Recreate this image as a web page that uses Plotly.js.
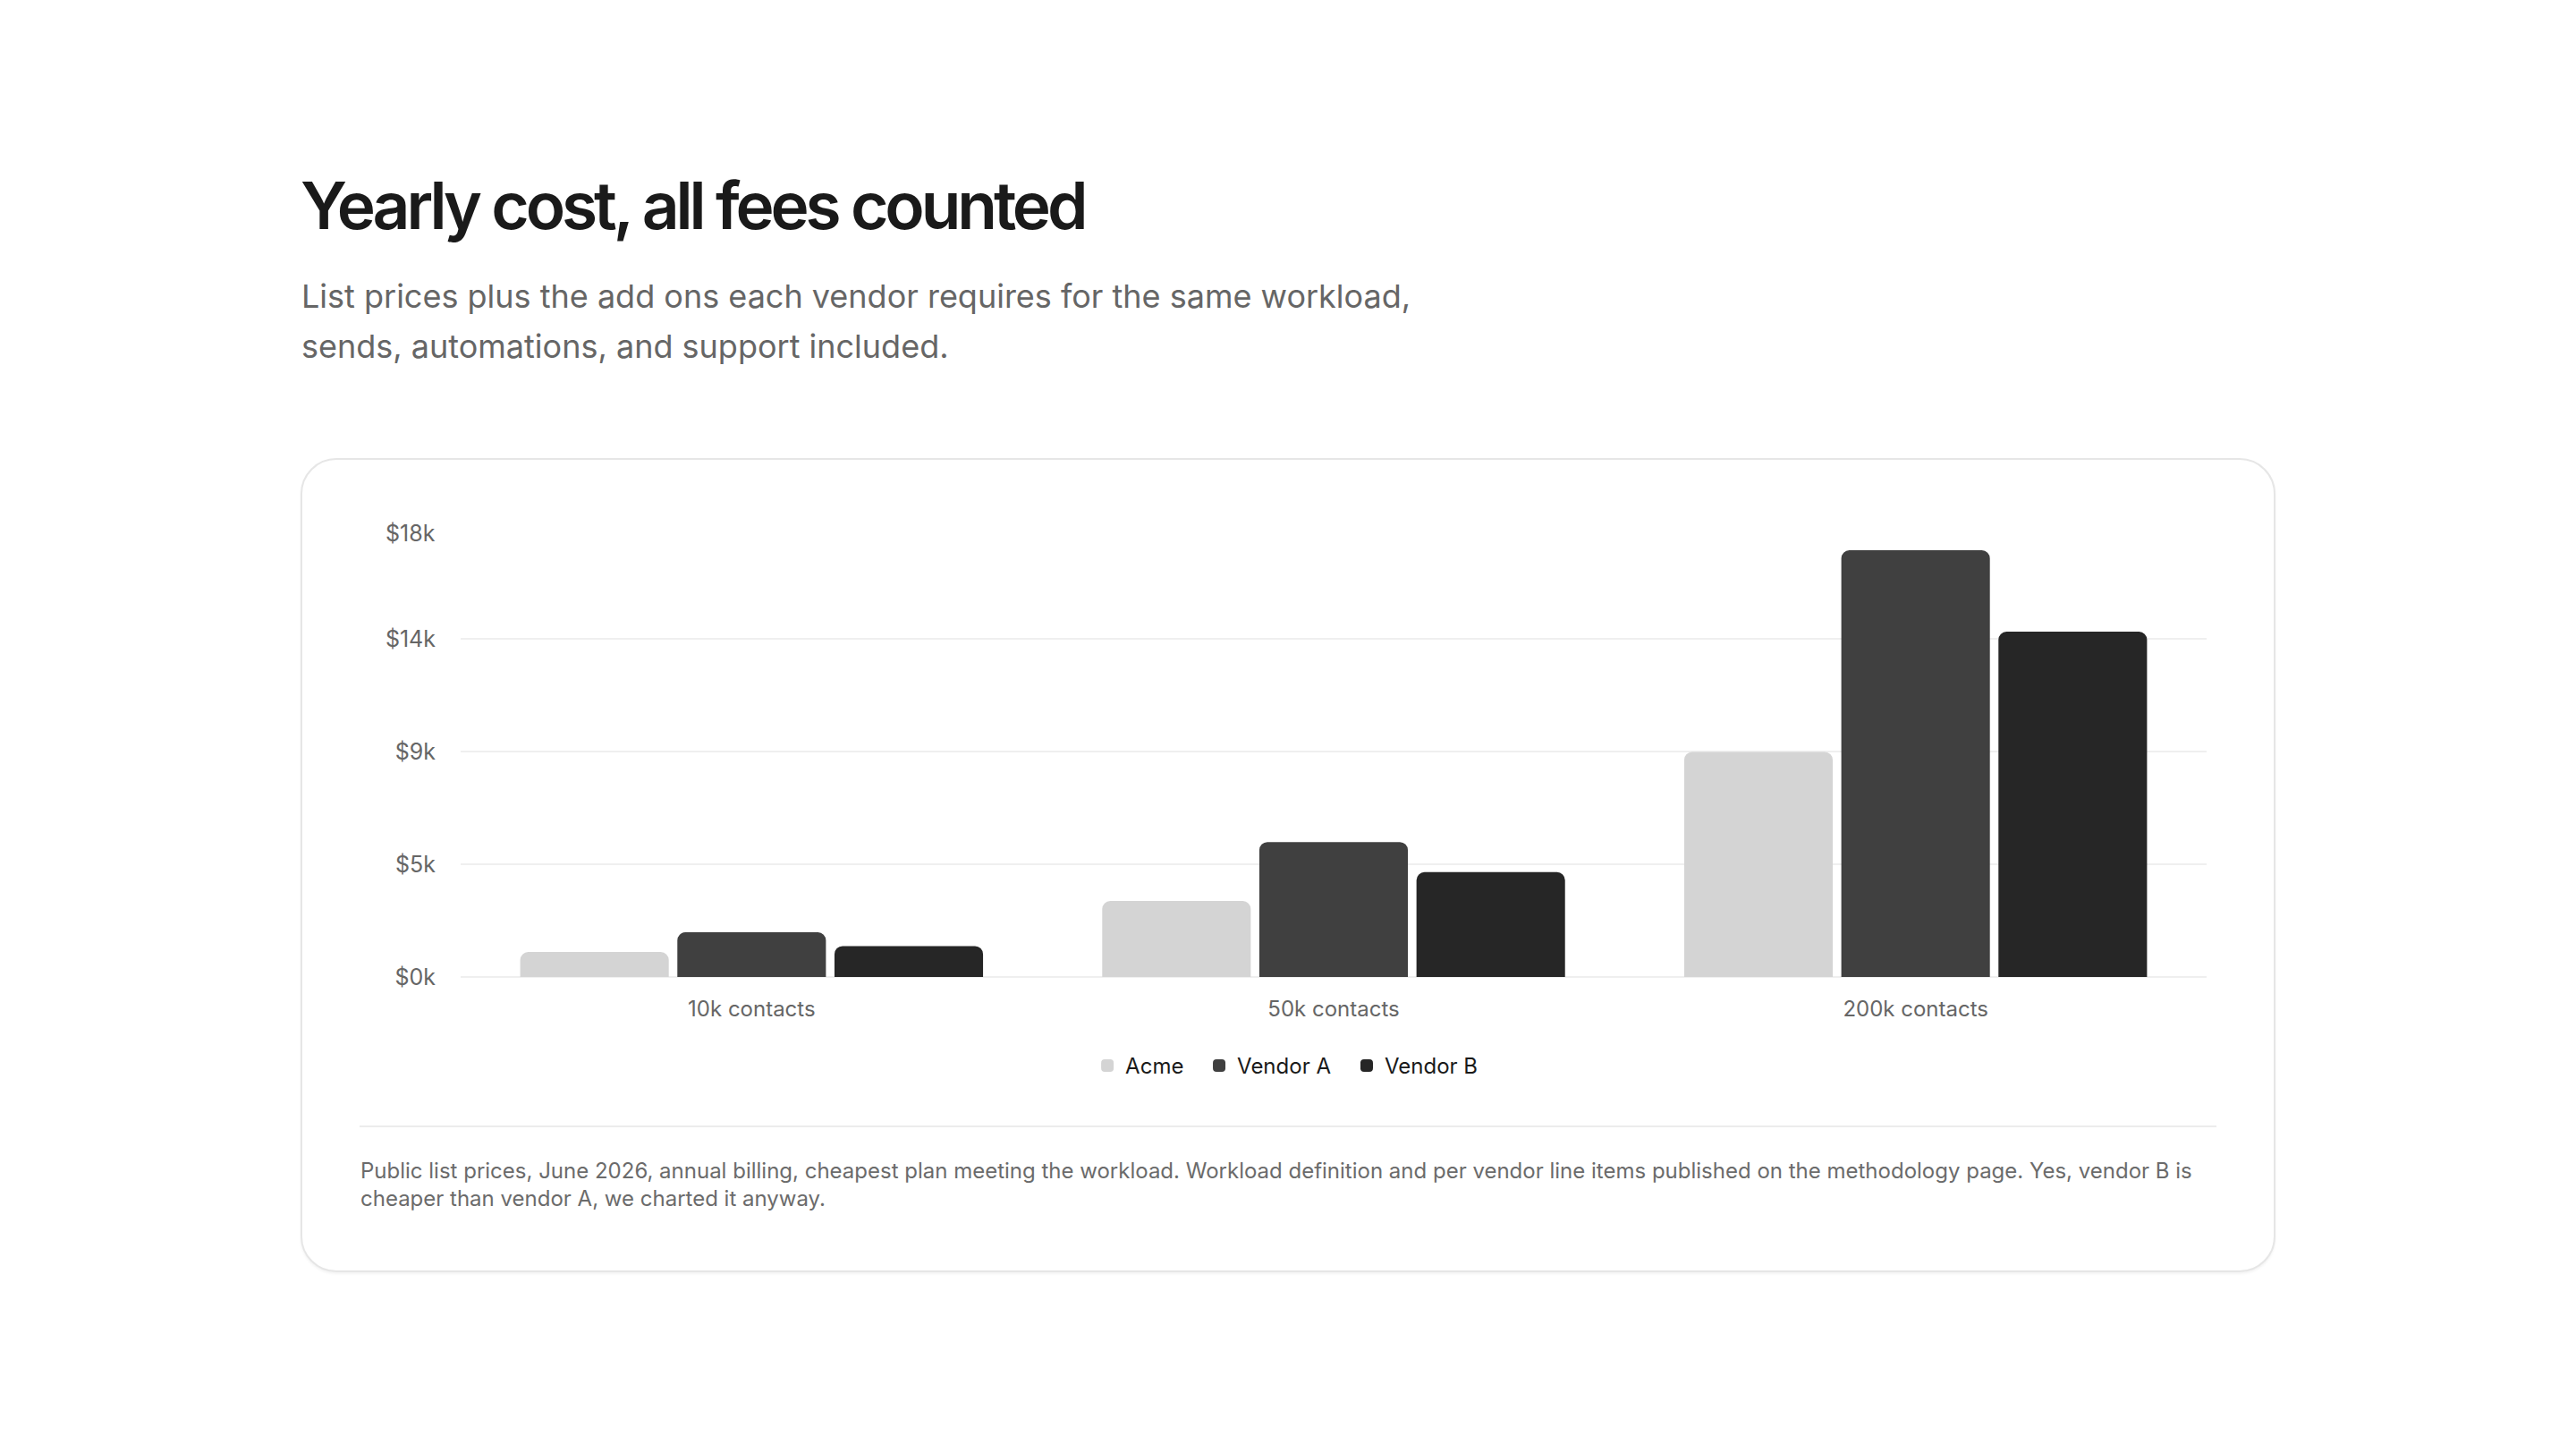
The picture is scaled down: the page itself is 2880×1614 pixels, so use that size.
<!DOCTYPE html>
<html>
<head>
<meta charset="utf-8">
<script src="https://cdn.plot.ly/plotly-3.0.1.min.js"></script>
<style>
  html, body { margin: 0; padding: 0; background: #ffffff; width: 2880px; height: 1614px; overflow: hidden; }
  body { font-family: "Inter", "Noto Sans", sans-serif; position: relative; }
  #title { position: absolute; left: 336px; top: 193px; margin: 0; font-size: 73px; font-weight: 600; letter-spacing: -0.056em; color: #1a1a1a; line-height: 1; white-space: nowrap; }
  #subtitle { position: absolute; left: 337px; top: 303px; width: 1290px; margin: 0; font-size: 36px; line-height: 56px; color: #666666; font-weight: 400; }
  #card { position: absolute; left: 336px; top: 512px; width: 2204px; height: 906px; border: 2px solid #e6e6e6; border-radius: 40px; background: #ffffff; box-shadow: 0 2px 3px rgba(0,0,0,0.05); }
  #chart { position: absolute; left: 402px; top: 540px; width: 2076px; height: 720px; }
  #divider { position: absolute; left: 402px; top: 1258px; width: 2076px; height: 0; border-top: 2px solid #ececec; }
  #note { position: absolute; left: 403px; top: 1293px; width: 2076px; margin: 0; font-size: 24px; line-height: 31px; color: #6b6b6b; }
</style>
</head>
<body>
<h1 id="title">Yearly cost, all fees counted</h1>
<p id="subtitle">List prices plus the add ons each vendor requires for the same workload, sends, automations, and support included.</p>
<div id="card"></div>
<div id="chart"></div>
<div id="divider"></div>
<p id="note">Public list prices, June 2026, annual billing, cheapest plan meeting the workload. Workload definition and per vendor line items published on the methodology page. Yes, vendor B is cheaper than vendor A, we charted it anyway.</p>
<script>
const categories = ["10k contacts", "50k contacts", "200k contacts"];
const seriesNames = ["Acme", "Vendor A", "Vendor B"];
const acme = [960, 3000, 8950];
const vendorA = [1750, 5350, 17000];
const vendorB = [1200, 4150, 13750];
const yTickVals = [0, 4500, 9000, 13500, 18000];
const yTickText = ["$0k", "$5k", "$9k", "$14k", "$18k"];
const colors = ["#d4d4d4", "#404040", "#262626"];

const values = [acme, vendorA, vendorB];
const legendIds = ["legend", "legend2", "legend3"];
const traces = seriesNames.map((name, i) => ({
  type: "bar",
  name: name,
  x: categories,
  y: values[i],
  legend: legendIds[i],
  marker: { color: colors[i], cornerradius: 8, line: { width: 2, color: colors[i] } },
  hoverinfo: "skip"
}));

// the top tick label sits slightly below its gridline (kept inside the plot), drawn as an annotation
const lastTick = yTickVals.length - 1;
const shownTickText = yTickText.map((t, i) => (i === lastTick ? "" : t));

const legendBase = {
  orientation: "h",
  xanchor: "left",
  y: -0.197,
  yanchor: "middle",
  font: { size: 24, color: "#1a1a1a" },
  bgcolor: "rgba(0,0,0,0)",
  borderwidth: 0
};

const layout = {
  width: 2076,
  height: 720,
  margin: { l: 113, r: 11, t: 48, b: 168 },
  paper_bgcolor: "rgba(0,0,0,0)",
  plot_bgcolor: "rgba(0,0,0,0)",
  barmode: "group",
  bargap: 0.19,
  bargroupgap: 0.066,
  font: { family: "Inter, 'Noto Sans', sans-serif", color: "#666666" },
  xaxis: {
    type: "category",
    showgrid: false,
    showline: false,
    zeroline: false,
    ticks: "",
    tickfont: { size: 24, color: "#666666" },
    ticklabelstandoff: 19
  },
  yaxis: {
    range: [0, 18000],
    tickvals: yTickVals,
    ticktext: shownTickText,
    showgrid: true,
    gridcolor: "#efefef",
    gridwidth: 2,
    zeroline: true,
    zerolinecolor: "#efefef",
    zerolinewidth: 2,
    showline: false,
    ticks: "",
    tickfont: { size: 25, color: "#666666" },
    ticklabelstandoff: 27
  },
  annotations: [{
    text: yTickText[lastTick],
    xref: "paper", x: 0, xanchor: "right", xshift: -26,
    yref: "y", y: yTickVals[lastTick], yanchor: "middle", yshift: -8,
    showarrow: false,
    font: { size: 25, color: "#666666", family: "Inter, 'Noto Sans', sans-serif" }
  }],
  showlegend: true,
  legend: Object.assign({}, legendBase, { x: 0.3602 }),
  legend2: Object.assign({}, legendBase, { x: 0.4242 }),
  legend3: Object.assign({}, legendBase, { x: 0.5087 })
};

Plotly.newPlot("chart", traces, layout, { staticPlot: true, displayModeBar: false });
</script>
</body>
</html>
